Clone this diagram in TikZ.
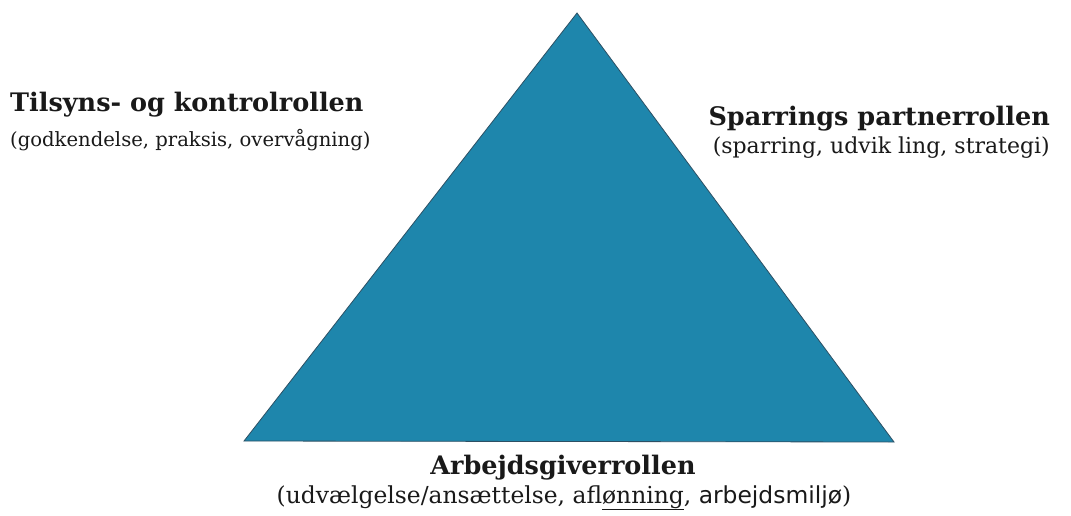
\documentclass[tikz,border=0pt]{standalone}
\usepackage{fontspec}
\setmainfont{DejaVu Serif}
\newfontfamily\sansfont{DejaVu Sans}
\usepackage{tikz}
\usepackage{xcolor}
\definecolor{rolleblue}{RGB}{30,134,172}
\definecolor{rolleedge}{RGB}{45,80,100}
\usetikzlibrary{positioning}

\begin{document}
\begin{tikzpicture}[x=1pt,y=-1pt,
    rolletitle/.style={font=\bfseries\fontsize{25.5}{30}\selectfont},
    rolletext/.style={font=\fontsize{#1}{24}\selectfont},
    rolle/.style={inner sep=0pt, text=black!90}]
    \useasboundingbox (0,0) rectangle (1071,515);
    % triangle corners
    \coordinate (apex) at (577,13);
    \coordinate (bl) at (244,441);
    \coordinate (br) at (894,442);
    \filldraw[fill=rolleblue, draw=rolleedge, line width=0.8pt, line join=miter] (apex) -- (br) -- (bl) -- cycle;
    % left role
    \node[rolle, rolletitle, anchor=base west] (tilsyn) at (10,111) {Tilsyns- og kontrolrollen};
    \node[rolle, rolletext=19.6, anchor=base west] (tilsynsub) at (10,146) {(godkendelse, praksis, overvågning)};
    % right role
    \node[rolle, rolletitle, anchor=base east] (sparring) at (1050,125) {Sparrings partnerrollen};
    \node[rolle, rolletext=22, anchor=base east] (sparringsub) at (1050,153) {(sparring, udvik ling, strategi)};
    % bottom role
    \node[rolle, rolletitle, anchor=base] (arbejde) at (563,474) {Arbejdsgiverrollen};
    \node[rolle, rolletext=23.4, anchor=base] (arbejdesub) at (564,503) {(udvælgelse/ansættelse, afl\underline{ønning}, {\sansfont arbejdsmiljø})};
\end{tikzpicture}
\end{document}
